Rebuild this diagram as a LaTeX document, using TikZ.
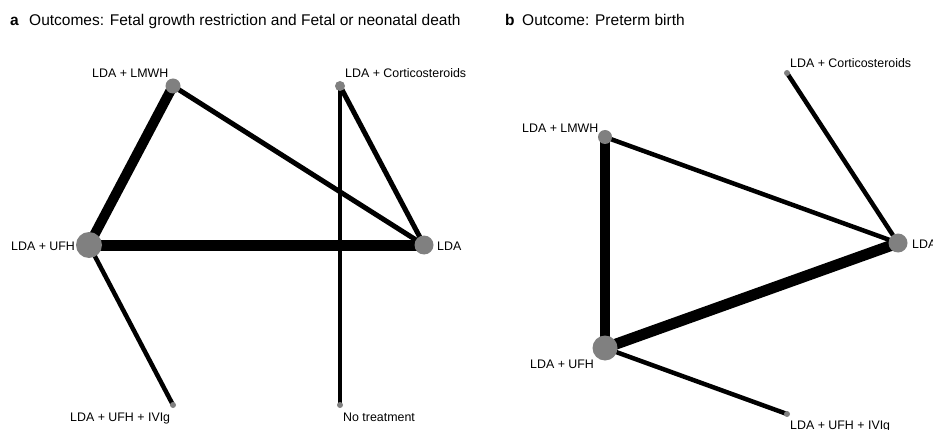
\documentclass[tikz,border=0pt]{standalone}
\usepackage{fontspec}
\setmainfont{Liberation Sans}

\definecolor{nodegray}{rgb}{0.5,0.5,0.5}

\tikzset{
  trt/.style={circle, fill=nodegray, inner sep=0pt},
  lbl/.style={anchor=base west, inner sep=0pt, font=\fontsize{12.4}{14}\selectfont},
  ttl/.style={anchor=base west, inner sep=0pt, font=\fontsize{15.5}{18}\selectfont},
  edge/.style={black, line width=#1pt}
}

\begin{document}
\begin{tikzpicture}[x=1pt, y=-1pt]
            \useasboundingbox (0,0) rectangle (933,430);

            % panel a
            \node[ttl] (ta) at (10,25.5) {\textbf{a}};
            \node[ttl] (tta) at (29,25.5) {Outcomes: Fetal growth restriction and Fetal or neonatal death};

            \coordinate (a-lmwh) at (173,86);
            \coordinate (a-cort) at (340,86);
            \coordinate (a-ufh) at (89,245);
            \coordinate (a-lda) at (424,245);
            \coordinate (a-ivig) at (173,405);
            \coordinate (a-none) at (340,405);

            \draw[edge=10] (a-lmwh) -- (a-ufh);
            \draw[edge=5] (a-lmwh) -- (a-lda);
            \draw[edge=5] (a-cort) -- (a-lda);
            \draw[edge=4.5] (a-cort) -- (a-none);
            \draw[edge=11] (a-ufh) -- (a-lda);
            \draw[edge=4.5] (a-ufh) -- (a-ivig);

            \node[trt, minimum size=15pt] (na-lmwh) at (a-lmwh) {};
            \node[trt, minimum size=10pt] (na-cort) at (a-cort) {};
            \node[trt, minimum size=26pt] (na-ufh) at (a-ufh) {};
            \node[trt, minimum size=19pt] (na-lda) at (a-lda) {};
            \node[trt, minimum size=6pt] (na-ivig) at (a-ivig) {};
            \node[trt, minimum size=6pt] (na-none) at (a-none) {};

            \node[lbl] (la-lmwh) at (92,78) {LDA + LMWH};
            \node[lbl] (la-cort) at (345,78) {LDA + Corticosteroids};
            \node[lbl] (la-ufh) at (11,250) {LDA + UFH};
            \node[lbl] (la-lda) at (437,250) {LDA};
            \node[lbl] (la-ivig) at (70,421) {LDA + UFH + IVIg};
            \node[lbl] (la-none) at (343,421) {No treatment};

            % panel b
            \node[ttl] (tb) at (505,25.5) {\textbf{b}};
            \node[ttl] (ttb) at (522,25.5) {Outcome: Preterm birth};

            \coordinate (b-cort) at (787,73);
            \coordinate (b-lmwh) at (605,137);
            \coordinate (b-lda) at (898,243);
            \coordinate (b-ufh) at (605,348);
            \coordinate (b-ivig) at (787,414);

            \draw[edge=4.5] (b-cort) -- (b-lda);
            \draw[edge=4.5] (b-lmwh) -- (b-lda);
            \draw[edge=10] (b-lmwh) -- (b-ufh);
            \draw[edge=11] (b-ufh) -- (b-lda);
            \draw[edge=4.5] (b-ufh) -- (b-ivig);

            \node[trt, minimum size=6pt] (nb-cort) at (b-cort) {};
            \node[trt, minimum size=14pt] (nb-lmwh) at (b-lmwh) {};
            \node[trt, minimum size=19pt] (nb-lda) at (b-lda) {};
            \node[trt, minimum size=25pt] (nb-ufh) at (b-ufh) {};
            \node[trt, minimum size=6pt] (nb-ivig) at (b-ivig) {};

            \node[lbl] (lb-cort) at (790,68) {LDA + Corticosteroids};
            \node[lbl] (lb-lmwh) at (522,133) {LDA + LMWH};
            \node[lbl] (lb-lda) at (912,248) {LDA};
            \node[lbl] (lb-ufh) at (530,368) {LDA + UFH};
            \node[lbl] (lb-ivig) at (790,429) {LDA + UFH + IVIg};
        \end{tikzpicture}
\end{document}
